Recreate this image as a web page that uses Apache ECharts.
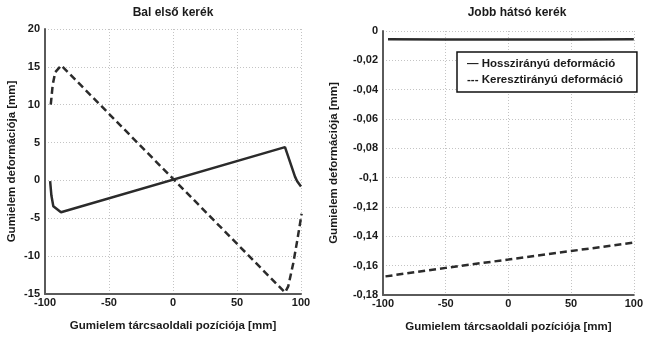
<!DOCTYPE html>
<html>
<head>
<meta charset="utf-8">
<script src="https://cdn.jsdelivr.net/npm/echarts@6/dist/echarts.min.js"></script>
<style>
  html, body { margin: 0; padding: 0; background: #fff; }
  #chart { width: 646px; height: 338px; }
</style>
</head>
<body>
<div id="chart"></div>
<script>
// Tire element deformation along the disc-side position, two wheels.
const titles = ['Bal első kerék', 'Jobb hátsó kerék'];
const xAxisName = 'Gumielem tárcsaoldali pozíciója [mm]';
const yAxisName = 'Gumielem deformációja [mm]';
const seriesNames = ['Hosszirányú deformáció', 'Keresztirányú deformáció'];
const legendMarks = ['—', '---'];

// Left wheel (front left): [position mm, deformation mm]
const leftLong = [
  [-96, -0.1], [-95, -2.0], [-93.5, -3.4], [-87.5, -4.2],
  [87.5, 4.4], [95.3, 0.5], [97, -0.1], [100, -0.8]
];
const leftLat = [
  [-95.5, 10.0], [-94, 12.6], [-92, 14.3], [-87.3, 15.2],
  [87.5, -14.8], [90, -14.0], [94, -10.9], [97, -8.0], [100.5, -4.4]
];

// Right wheel (rear right)
const rightLong = [
  [-96, -0.0057], [-50, -0.0058], [0, -0.0058], [50, -0.0058], [100, -0.0057]
];
const rightLat = [
  [-98, -0.1673], [-50, -0.1615], [0, -0.1558], [50, -0.1500], [100, -0.1443]
];

const xTicks = { min: -100, max: 100, interval: 50 };
const leftY = { min: -15, max: 20, interval: 5 };
const rightY = { min: -0.18, max: 0, interval: 0.02 };

const FONT = 'Liberation Sans, Arial, sans-serif';
const INK = '#1a1a1a';
const LINE = '#2b2b2b';

const labelStyle = { color: INK, fontFamily: FONT, fontSize: 11, fontWeight: 'bold' };
const nameStyle = Object.assign({}, labelStyle, { fontSize: 11.5 });
const gridLine = { show: true, lineStyle: { color: '#c4c4c4', width: 1, type: [1, 2] } };
const axisLine = { show: true, onZero: false, lineStyle: { color: '#5a5a5a', width: 2 } };

function xAxis(gridIndex) {
  return {
    type: 'value', gridIndex,
    min: xTicks.min, max: xTicks.max, interval: xTicks.interval,
    name: xAxisName, nameLocation: 'middle', nameGap: 26,
    nameTextStyle: nameStyle,
    axisLine, axisTick: { show: false },
    axisLabel: Object.assign({ margin: 3 }, labelStyle),
    splitLine: gridLine
  };
}

function yAxis(gridIndex, range, gap, fmt) {
  return {
    type: 'value', gridIndex,
    min: range.min, max: range.max, interval: range.interval,
    name: yAxisName, nameLocation: 'middle', nameGap: gap, nameRotate: 90,
    nameTextStyle: nameStyle,
    axisLine, axisTick: { show: false },
    axisLabel: Object.assign({ margin: 5, formatter: fmt }, labelStyle),
    splitLine: gridLine
  };
}

const commaFmt = v => {
  if (Math.abs(v) < 1e-9) return '0';
  return String(+v.toFixed(2)).replace('.', ',');
};

function line(name, data, xi, dashed) {
  return {
    name, type: 'line', data, xAxisIndex: xi, yAxisIndex: xi,
    showSymbol: false, symbol: 'none', smooth: false, z: 5,
    lineStyle: { color: LINE, width: 2.5, type: dashed ? [7, 4] : 'solid' },
    itemStyle: { color: LINE }
  };
}

const chart = echarts.init(document.getElementById('chart'));
chart.setOption({
  animation: false,
  backgroundColor: '#fff',
  title: [
    { text: titles[0], left: 173, top: 7, textAlign: 'center', padding: 0,
      textStyle: Object.assign({}, labelStyle, { fontSize: 12 }) },
    { text: titles[1], left: 517, top: 7, textAlign: 'center', padding: 0,
      textStyle: Object.assign({}, labelStyle, { fontSize: 12 }) }
  ],
  grid: [
    { left: 45, top: 29, width: 256, height: 265 },
    { left: 383, top: 31, width: 254, height: 264 }
  ],
  xAxis: [xAxis(0), xAxis(1)],
  yAxis: [yAxis(0, leftY, 27), yAxis(1, rightY, 43, commaFmt)],
  legend: {
    data: seriesNames.map(n => ({ name: n, icon: 'none' })),
    orient: 'vertical', left: 457, top: 52,
    itemWidth: 0, itemHeight: 12, itemGap: 4,
    padding: [6, 14, 6, 5],
    backgroundColor: '#fff', borderColor: '#111', borderWidth: 1.5,
    selectedMode: false,
    formatter: n => legendMarks[seriesNames.indexOf(n)] + ' ' + n,
    textStyle: Object.assign({}, labelStyle, { fontSize: 11.5 })
  },
  series: [
    line(seriesNames[0], leftLong, 0, false),
    line(seriesNames[1], leftLat, 0, true),
    line(seriesNames[0], rightLong, 1, false),
    line(seriesNames[1], rightLat, 1, true)
  ]
});
</script>
</body>
</html>
